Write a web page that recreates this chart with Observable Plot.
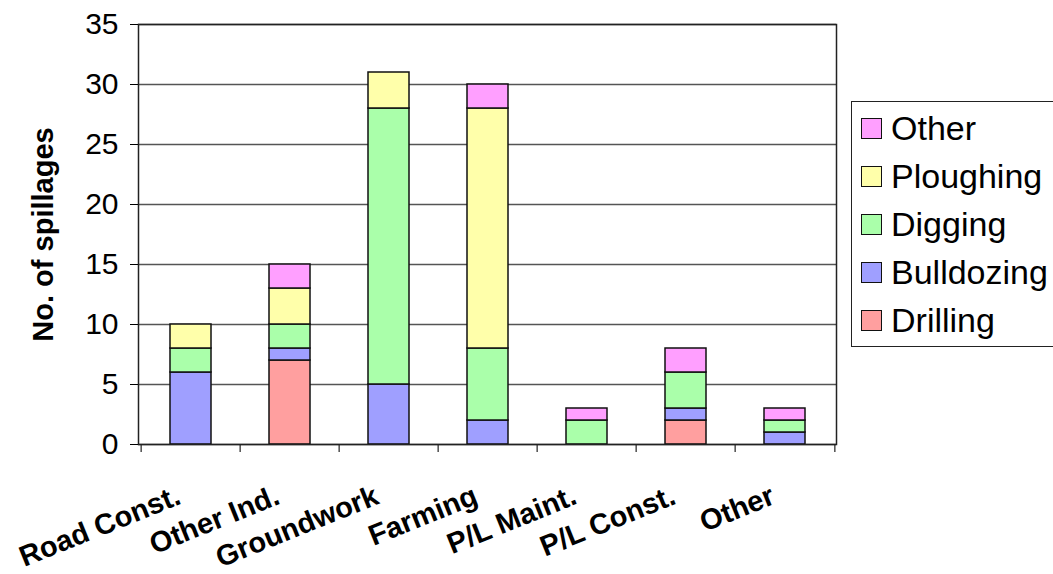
<!DOCTYPE html>
<html>
<head>
<meta charset="utf-8">
<script src="https://cdn.jsdelivr.net/npm/d3@7"></script>
<script src="https://cdn.jsdelivr.net/npm/@observablehq/plot@0.6"></script>
<style>
  html, body { margin: 0; padding: 0; background: #fff; overflow: hidden; }
  #wrap { position: relative; width: 1053px; height: 574px; font-family: "Liberation Sans", Arial, sans-serif; }
  #legend {
    position: absolute; left: 851px; top: 101px; width: 240px; height: 246px;
    border: 1.5px solid #222; box-sizing: border-box; padding: 2px 0 0 9px; background: #fff;
  }
  .item { display: flex; align-items: center; height: 48px; font-size: 34px; color: #000; }
  .sw { width: 19px; height: 19px; border: 1px solid #111; margin-right: 9px; flex: none; }
</style>
</head>
<body>
<div id="wrap"></div>
<script>
// Spillages by industry, broken down by the activity that caused them
const categories = ["Road Const.", "Other Ind.", "Groundwork", "Farming", "P/L Maint.", "P/L Const.", "Other"];
const causes = ["Drilling", "Bulldozing", "Digging", "Ploughing", "Other"];
const drilling   = [0, 7, 0, 0, 0, 2, 0];
const bulldozing = [6, 1, 5, 2, 0, 1, 1];
const digging    = [2, 2, 23, 6, 2, 3, 1];
const ploughing  = [2, 3, 3, 20, 0, 0, 0];
const other      = [0, 2, 0, 2, 1, 2, 1];
const causeColors = ["#ff9f9f", "#9f9fff", "#aaffaa", "#ffffaa", "#ff9fff"];
const yTicks = [0, 5, 10, 15, 20, 25, 30, 35];
const yLabel = "No. of spillages";

const series = [drilling, bulldozing, digging, ploughing, other];
const rows = [];
causes.forEach((cause, j) => {
  categories.forEach((category, i) => {
    const count = series[j][i];
    if (count > 0) rows.push({category, cause, count});
  });
});

const W = 1053, H = 574;
const mL = 138, mR = 217, mT = 24, mB = 130;
const step = (W - mL - mR) / categories.length;

const chart = Plot.plot({
  width: W,
  height: H,
  marginLeft: mL,
  marginRight: mR,
  marginTop: mT,
  marginBottom: mB,
  style: {fontFamily: "'Liberation Sans', Arial, sans-serif", background: "#fff", color: "#000", overflow: "visible"},
  x: {domain: categories, paddingInner: 0.59, paddingOuter: 0.295, axis: null},
  y: {domain: [0, 35], axis: null},
  color: {domain: causes, range: causeColors},
  marks: [
    Plot.gridY(yTicks, {stroke: "#555", strokeOpacity: 1, strokeWidth: 1.4}),
    Plot.barY(rows, {x: "category", y: "count", fill: "cause", z: "cause", order: causes, stroke: "#111", strokeWidth: 1.5}),
    Plot.frame({stroke: "#222", strokeWidth: 1.5}),
    Plot.axisY({ticks: yTicks, tickSize: 8, tickPadding: 12, fontSize: 30, label: null}),
    Plot.axisX({tickSize: 0, tickRotate: -22, tickPadding: 50, dx: -12, fontSize: 29, fontWeight: "bold", label: null}),
    // category boundary ticks below the axis
    Plot.ruleX(categories, {x: d => d, y1: 0, y2: -8 / 12, dx: -step / 2, stroke: "#222", strokeWidth: 1.2}),
    Plot.ruleX(categories.slice(-1), {x: d => d, y1: 0, y2: -8 / 12, dx: step / 2, stroke: "#222", strokeWidth: 1.2}),
    Plot.text([yLabel], {frameAnchor: "left", textAnchor: "middle", text: d => d, rotate: -90, dx: -95, fontSize: 29, fontWeight: "bold"})
  ]
});

const wrap = document.getElementById("wrap");
wrap.appendChild(chart);

// legend, listed top to bottom in reverse stacking order
const legend = document.createElement("div");
legend.id = "legend";
causes.slice().reverse().forEach(cause => {
  const item = document.createElement("div");
  item.className = "item";
  const sw = document.createElement("span");
  sw.className = "sw";
  sw.style.background = causeColors[causes.indexOf(cause)];
  const label = document.createElement("span");
  label.textContent = cause;
  item.appendChild(sw);
  item.appendChild(label);
  legend.appendChild(item);
});
wrap.appendChild(legend);
</script>
</body>
</html>
